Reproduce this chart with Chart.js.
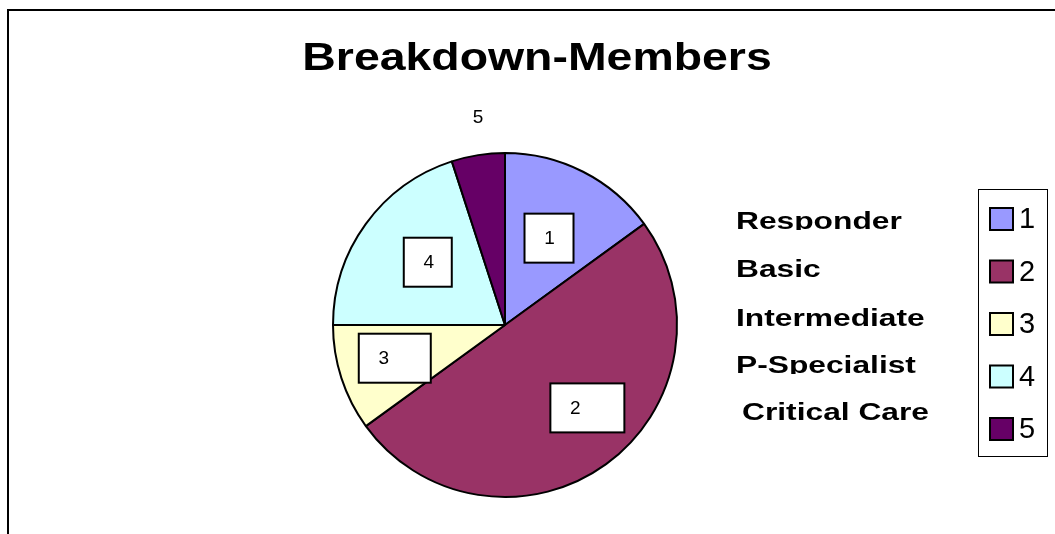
<!DOCTYPE html>
<html>
<head>
<meta charset="utf-8">
<script src="https://cdn.jsdelivr.net/npm/chart.js@4.4.0/dist/chart.umd.min.js"></script>
<style>
body { margin: 0; background: #fff; }
#wrap { position: relative; width: 1055px; height: 534px; }
</style>
</head>
<body>
<div id="wrap"><canvas id="myChart"></canvas></div>
<script>
var chartTitle = 'Breakdown-Members';
var categories = ['1', '2', '3', '4', '5'];
var levelNames = ['Responder', 'Basic', 'Intermediate', 'P-Specialist', 'Critical Care'];
var members = [15, 50, 10, 20, 5];
var sliceColors = ['#9999FF', '#993366', '#FFFFCC', '#CCFFFF', '#660066'];

var FONT = '"Liberation Sans", Arial, sans-serif';

// where each data label sits (fraction of radius, angle nudge in degrees, box width)
var labelStyle = [
    { f: 0.57, da: 0, w: 49 },
    { f: 0.63, da: -4.5, w: 74 },
    { f: 0.73, da: 2.9, w: 72 },
    { f: 0.576, da: 3.7, w: 48 },
    { f: 1.22, da: 1.6, w: 0 }
];

// text in the original is drawn wider than normal
function stretchText(ctx, text, x, y, sx) {
    ctx.save();
    ctx.translate(x, y);
    ctx.scale(sx, 1);
    ctx.fillText(text, 0, 0);
    ctx.restore();
}

const extras = {
    id: 'extras',
    beforeDraw(chart) {
        const ctx = chart.ctx;
        ctx.save();
        ctx.fillStyle = '#fff';
        ctx.fillRect(0, 0, chart.width, chart.height);
        // outer frame (only top and left visible)
        ctx.strokeStyle = '#000';
        ctx.lineWidth = 2;
        ctx.beginPath();
        ctx.moveTo(8, chart.height);
        ctx.lineTo(8, 10);
        ctx.lineTo(chart.width, 10);
        ctx.stroke();
        ctx.restore();
    },
    afterDraw(chart) {
        const ctx = chart.ctx;
        ctx.save();

        // title
        ctx.fillStyle = '#000';
        ctx.font = 'bold 39px ' + FONT;
        ctx.textAlign = 'center';
        ctx.textBaseline = 'alphabetic';
        stretchText(ctx, chartTitle, 537, 70, 1.19);

        // data labels
        const meta = chart.getDatasetMeta(0);
        ctx.font = '19px ' + FONT;
        meta.data.forEach(function(arc, i) {
            const p = arc.getProps(['x', 'y', 'startAngle', 'endAngle', 'outerRadius'], true);
            const s = labelStyle[i];
            const mid = (p.startAngle + p.endAngle) / 2 + s.da * Math.PI / 180;
            const tx = p.x + Math.cos(mid) * p.outerRadius * s.f;
            const ty = p.y + Math.sin(mid) * p.outerRadius * s.f;
            if (s.w > 0) {
                ctx.fillStyle = '#fff';
                ctx.fillRect(tx - 25, ty - 24, s.w, 49);
                ctx.strokeStyle = '#000';
                ctx.lineWidth = 2;
                ctx.strokeRect(tx - 25, ty - 24, s.w, 49);
            }
            ctx.fillStyle = '#000';
            ctx.textAlign = 'center';
            ctx.textBaseline = 'middle';
            ctx.fillText(chart.data.labels[i], tx, ty + 1);
        });

        // level names
        ctx.font = 'bold 23px ' + FONT;
        ctx.textAlign = 'left';
        ctx.textBaseline = 'alphabetic';
        var nameBase = [229, 277, 326, 373, 420];
        var nameX = [736, 736, 736, 736, 742];
        var clipped = [true, false, false, true, false];
        levelNames.forEach(function(name, i) {
            ctx.save();
            if (clipped[i]) {
                ctx.beginPath();
                ctx.rect(nameX[i] - 5, nameBase[i] - 30, 250, 31);
                ctx.clip();
            }
            ctx.fillStyle = '#000';
            stretchText(ctx, name, nameX[i], nameBase[i], 1.38);
            ctx.restore();
        });

        // legend
        ctx.strokeStyle = '#000';
        ctx.lineWidth = 1;
        ctx.strokeRect(978.5, 189.5, 69, 267);
        ctx.font = '29px ' + FONT;
        ctx.textBaseline = 'middle';
        chart.data.labels.forEach(function(lab, i) {
            const cy = 219 + i * 52.5;
            ctx.fillStyle = chart.data.datasets[0].backgroundColor[i];
            ctx.fillRect(990, cy - 11, 23, 22);
            ctx.lineWidth = 2;
            ctx.strokeRect(990, cy - 11, 23, 22);
            ctx.fillStyle = '#000';
            ctx.fillText(lab, 1019, cy + 1);
        });

        ctx.restore();
    }
};

const ctxc = document.getElementById('myChart');
const chart = new Chart(ctxc, {
    type: 'pie',
    data: {
        labels: categories,
        datasets: [{
            data: members,
            backgroundColor: sliceColors,
            borderColor: '#000',
            borderWidth: 2
        }]
    },
    options: {
        responsive: true,
        maintainAspectRatio: false,
        animation: false,
        radius: 172,
        layout: {
            padding: { left: 333, right: 378, top: 153, bottom: 37 }
        },
        plugins: {
            legend: { display: false },
            title: { display: false },
            tooltip: { enabled: false }
        }
    },
    plugins: [extras]
});
</script>
</body>
</html>
